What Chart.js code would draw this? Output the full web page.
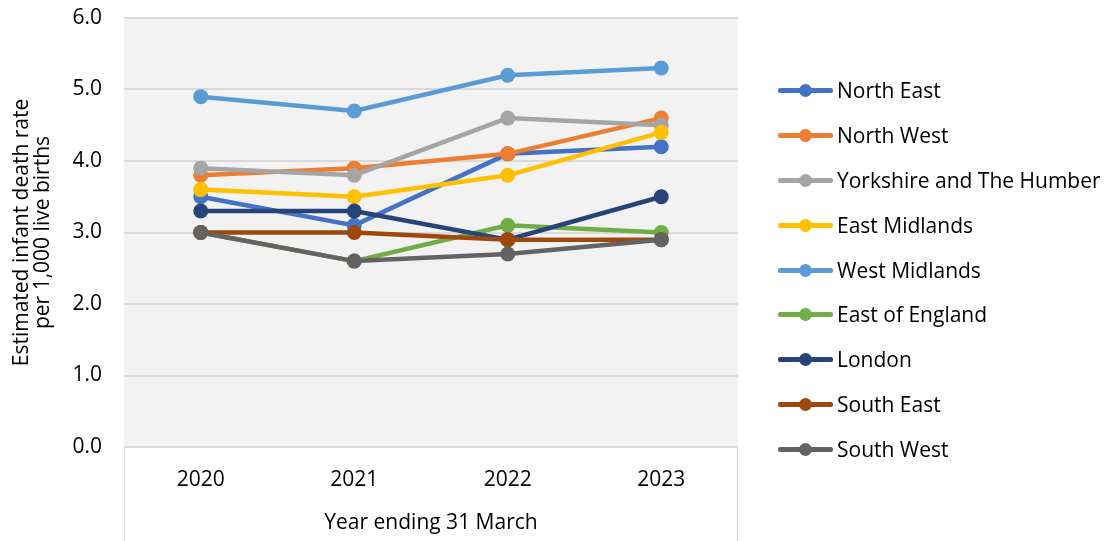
<!DOCTYPE html>
<html>
<head>
<meta charset="utf-8">
<script src="https://cdn.jsdelivr.net/npm/chart.js@4/dist/chart.umd.min.js"></script>
<style>
  html, body { margin: 0; padding: 0; background: #fff; }
  #wrap { position: relative; width: 1110px; height: 541px; }
  #legend { position: absolute; left: 778px; top: 68px; font-family: "Open Sans", sans-serif; font-size: 21px; color: #000; }
  .item { position: relative; height: 44.9px; line-height: 44.9px; white-space: nowrap; }
  .swatch { position: absolute; left: 0; top: 20px; width: 55px; height: 5px; border-radius: 2px; }
  .dot { position: absolute; left: 21px; top: 16px; width: 13px; height: 13px; border-radius: 50%; }
  .label { position: absolute; left: 59px; top: 0; }
</style>
</head>
<body>
<div id="wrap">
  <canvas id="rateChart" width="1110" height="541"></canvas>
  <div id="legend"></div>
</div>
<script>
const years = ["2020", "2021", "2022", "2023"];
const regions = ["North East", "North West", "Yorkshire and The Humber", "East Midlands", "West Midlands",
  "East of England", "London", "South East", "South West"];
const colours = ["#4472C4", "#ED7D31", "#A5A5A5", "#FFC000", "#5B9BD5", "#70AD47", "#264478", "#9E480E", "#636363"];

const northEast = [3.5, 3.1, 4.1, 4.2];
const northWest = [3.8, 3.9, 4.1, 4.6];
const yorkshire = [3.9, 3.8, 4.6, 4.5];
const eastMidlands = [3.6, 3.5, 3.8, 4.4];
const westMidlands = [4.9, 4.7, 5.2, 5.3];
const eastOfEngland = [3.0, 2.6, 3.1, 3.0];
const london = [3.3, 3.3, 2.9, 3.5];
const southEast = [3.0, 3.0, 2.9, 2.9];
const southWest = [3.0, 2.6, 2.7, 2.9];

const seriesValues = [northEast, northWest, yorkshire, eastMidlands, westMidlands,
  eastOfEngland, london, southEast, southWest];

const font = "'Open Sans', sans-serif";

// grey plot background plus the box under the category axis
const plotBox = {
  id: "plotBox",
  beforeDraw(chart) {
    const { ctx, chartArea: a } = chart;
    ctx.save();
    ctx.fillStyle = "#f2f2f2";
    ctx.fillRect(a.left, a.top, a.right - a.left, a.bottom - a.top);
    ctx.strokeStyle = "#d9d9d9";
    ctx.lineWidth = 1;
    ctx.beginPath();
    ctx.moveTo(a.left + 0.5, a.bottom);
    ctx.lineTo(a.left + 0.5, chart.height);
    ctx.moveTo(a.right - 0.5, a.bottom);
    ctx.lineTo(a.right - 0.5, chart.height);
    ctx.stroke();
    ctx.restore();
  }
};

const datasets = regions.map((name, i) => ({
  label: name,
  data: seriesValues[i],
  borderColor: colours[i],
  backgroundColor: colours[i],
  pointBackgroundColor: colours[i],
  pointBorderWidth: 0,
  pointRadius: 7.5,
  borderWidth: 4.5,
  tension: 0,
  order: regions.length - i
}));

const chart = new Chart(document.getElementById("rateChart"), {
  type: "line",
  data: { labels: years, datasets: datasets },
  plugins: [plotBox],
  options: {
    responsive: false,
    animation: false,
    layout: { padding: { top: 18, right: 372, left: 0, bottom: 0 } },
    plugins: { legend: { display: false }, tooltip: { enabled: false } },
    scales: {
      x: {
        offset: true,
        grid: { display: false, drawTicks: false },
        border: { display: false },
        ticks: { color: "#000", font: { family: font, size: 21 }, padding: 20 },
        title: {
          display: true, text: "Year ending 31 March", color: "#000",
          font: { family: font, size: 21 }, padding: { top: 0, bottom: 5 }
        },
        afterFit(scale) { scale.height = 94; }
      },
      y: {
        min: 0, max: 6,
        grid: { color: "#d9d9d9", lineWidth: 2, drawTicks: false },
        border: { display: false },
        ticks: {
          stepSize: 1, color: "#000", padding: 22,
          font: { family: font, size: 21 },
          callback: v => v.toFixed(1)
        },
        title: {
          display: true, text: ["Estimated infant death rate", "per 1,000 live births"], color: "#000",
          font: { family: font, size: 21, lineHeight: 1.0 }, padding: { top: 12, bottom: 0 }
        },
        afterFit(scale) {
          scale.width = 124;
          // keep the top gap to the layout padding only
          scale.paddingTop = 0;
          scale.paddingBottom = 0;
        }
      }
    }
  }
});

// legend: line with a marker, then the region name
const legend = document.getElementById("legend");
chart.data.datasets.forEach(ds => {
  const item = document.createElement("div");
  item.className = "item";
  item.innerHTML = '<span class="swatch" style="background:' + ds.borderColor + '"></span>' +
    '<span class="dot" style="background:' + ds.borderColor + '"></span>' +
    '<span class="label">' + ds.label + '</span>';
  legend.appendChild(item);
});
</script>
</body>
</html>
